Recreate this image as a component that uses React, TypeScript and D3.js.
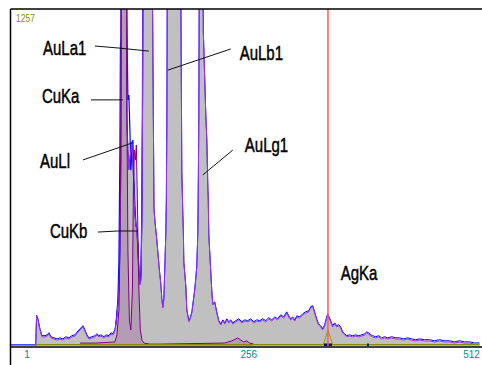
import React from 'react';
import * as d3 from 'd3';

const W = 482;
const H = 365;

// main (grey filled) spectrum: [channel, counts]
const mainSpectrum: [number, number][] = [
  [-18.5, 0], [11, 0], [12, 110], [13.6, 97], [15.9, 60], [18.2, 34], [21.7, 34], [24, 37], [26.3, 45],
  [28.6, 30], [32, 26], [35.5, 22], [38.9, 26], [42.3, 22], [45.8, 30], [49.2, 26], [52.7, 34], [56.1, 37],
  [59.6, 52], [63, 63], [65.3, 71], [67.6, 56], [69.9, 37], [72.2, 26], [75.6, 30], [79.1, 34], [81.4, 41],
  [83.7, 34], [86, 37], [89.4, 30], [91.7, 37], [95.2, 34], [97.5, 45], [99.8, 41], [102, 56], [103.2, 78],
  [104.4, 112], [105.5, 153], [106.7, 209], [107.8, 358], [109, 694], [110.1, 2500], [112.4, 3500],
  [114.7, 2500], [115.8, 843], [117, 731], [118.1, 656], [119.3, 694], [120.4, 731], [121.6, 757],
  [122.7, 694], [123.9, 582], [125, 489], [126.2, 451], [127.4, 425], [128.5, 377], [129.7, 283],
  [130.8, 228], [132, 246], [133.1, 470], [133.9, 918], [134.8, 2000], [140, 6000], [144.5, 1500],
  [145.5, 1200], [147, 507], [148.2, 459], [150.5, 384], [152.8, 295], [155.1, 220], [156, 172],
  [157.2, 142], [158.3, 172], [159.5, 295], [160.6, 421], [161.2, 545], [161.8, 843], [162.9, 2000],
  [170.4, 6000], [177.9, 1300], [179, 645], [180.2, 481], [180.7, 433], [181.3, 310], [183.6, 220],
  [184.7, 134], [187, 90], [188.2, 97], [190.5, 123], [193.9, 209], [196.2, 295], [197.4, 421],
  [198, 630], [198.5, 843], [199.1, 1400], [202, 3000], [203.7, 1171], [206.6, 854], [207.7, 768],
  [208.9, 593], [209.4, 545], [210, 414], [212.3, 272], [213.5, 198], [214.6, 153], [216.9, 160],
  [219.2, 123], [221.5, 90], [223.8, 78], [226.1, 93], [228.4, 82], [230.7, 97], [233, 86], [235.3, 93],
  [237.6, 82], [241.1, 90], [244.5, 97], [248, 86], [251.4, 93], [254.8, 90], [258.2, 97], [261.7, 86],
  [265.1, 93], [268.6, 90], [272, 97], [275.5, 90], [278.9, 101], [282.4, 93], [285.8, 104], [289.2, 97],
  [292.7, 112], [296.1, 104], [299.6, 123], [301.9, 108], [304.2, 97], [306.5, 104], [308.8, 93],
  [311.1, 108], [314.5, 104], [318, 116], [321.4, 123], [324.9, 127], [327.2, 142], [329.5, 146],
  [331.7, 123], [334, 97], [336.3, 78], [338.6, 71], [340.9, 60], [343.2, 75], [345.5, 104], [346.7, 116],
  [347.8, 108], [350.1, 90], [352.4, 71], [354.7, 82], [357, 71], [359.3, 75], [361.6, 67], [363.9, 48],
  [366.2, 41], [368.5, 34], [371.9, 37], [375.4, 34], [378.8, 37], [382.3, 34], [385.7, 37], [389.2, 41],
  [391.5, 48], [393.8, 45], [396, 37], [398.3, 34], [401.8, 30], [405.2, 34], [408.7, 26], [412.1, 30],
  [415.6, 26], [420.2, 30], [424.8, 26], [429.4, 26], [434, 22], [438.5, 26], [443.1, 22], [447.7, 19],
  [452.3, 22], [458, 19], [463.8, 19], [469.5, 15], [475.3, 19], [481, 15], [486.8, 15], [492.5, 11],
  [498.3, 15], [504, 11], [509.8, 11], [515.5, 7], [521.2, 7],
];

// blue spectrum detail around the Cu / AuL region
const blueCuRegion: [number, number][] = [
  [103.2, 82], [104.4, 127], [105.5, 172], [106.7, 321], [107.8, 731], [108.4, 1123], [109, 1141],
  [109.6, 1400], [112.4, 3000], [115.8, 1216], [116.4, 1067], [117, 918], [118.1, 936], [119.3, 806],
  [120.4, 656], [121.6, 731], [122.7, 768], [123.9, 619], [125, 526], [126.2, 451], [127.4, 440],
  [128.5, 358], [129.7, 265], [130.8, 246], [132, 276], [133.1, 545], [133.7, 918], [134.2, 1400],
];

// copper reference spectrum (dark purple)
const cuSpectrum: [number, number][] = [
  [61.9, 11], [80, 11], [102, 15], [104.4, 41], [106.7, 134], [107.8, 358], [109, 918], [110.1, 2500],
  [112.4, 4000], [114.7, 2500], [115.8, 918], [117, 358], [118.7, 97], [120.4, 60], [122.2, 209],
  [123.4, 619], [124.5, 731], [125.7, 694], [126.7, 750], [127.9, 545], [129.6, 209], [131.3, 60],
  [133.1, 22], [135.4, 11], [142.3, 7], [153.7, 7], [228.4, 11], [236.4, 19], [243.3, 30], [246.8, 22],
  [250.2, 15], [253.6, 19], [257.1, 11], [261.7, 7],
];

const fullScale = 1257;
const tickChannels = [1, 256, 512];
const agKaChannel = 347;
const roiMarks: [number, number][] = [[342.5, 351.5], [392, 394]];

// annotation: name, text anchor [channel, counts], leader polyline [[channel, counts], ...]
const peakNames = ['AuLa1', 'CuKa', 'AuLl', 'CuKb', 'AuLb1', 'AuLg1', 'AgKa'];
const labelAnchors: [number, number][] = [
  [19.4, 1085], [18.2, 906], [15.9, 664], [27.4, 403], [245.5, 1067], [251.4, 724], [361.6, 246],
];
const leaderLines: [number, number][][] = [
  [[79.1, 1119], [107.8, 1111], [141.1, 1100]],
  [[74.5, 918], [111.2, 918]],
  [[65.3, 694], [121.6, 757]],
  [[82.5, 425], [105.5, 429], [128.5, 429]],
  [[235.3, 1108], [162.9, 1029]],
  [[237.6, 731], [203.1, 638]],
  [],
];

export default function App() {
  const x = d3.scaleLinear().domain([1, 512]).range([27, 471.5]);
  const y = d3.scaleLinear().domain([0, fullScale]).range([346, 9]);
  const plotL = 10.5;
  const plotR = 482;
  const plotT = 9;
  const plotB = 346;

  const area = d3
    .area<[number, number]>()
    .x((d) => x(d[0]))
    .y0(y(0))
    .y1((d) => y(d[1]));
  const line = d3
    .line<[number, number]>()
    .x((d) => x(d[0]))
    .y((d) => y(d[1]));

  return (
    <svg
      width={W}
      height={H}
      style={{ position: 'absolute', left: 0, top: 0, background: '#fff' }}
      fontFamily="'Liberation Sans', Arial, sans-serif"
    >
      <defs>
        <clipPath id="plotClip">
          <rect x={plotL} y={plotT} width={plotR - plotL} height={plotB - plotT} />
        </clipPath>
      </defs>
      <rect x={0} y={0} width={W} height={H} fill="#fff" />
      <g clipPath="url(#plotClip)">
        <path d={area(mainSpectrum) || ''} fill="#c0c0c0" />
        <path d={area(cuSpectrum) || ''} fill="#800080" fillOpacity={0.18} />
        <path
          d={line(mainSpectrum) || ''}
          fill="none"
          stroke="#0000ff"
          strokeWidth={1}
          transform="translate(0,-1.2)"
        />
        <path d={line(blueCuRegion) || ''} fill="none" stroke="#0000ff" strokeWidth={1.2} />
        <path d={line(mainSpectrum) || ''} fill="none" stroke="#9933ee" strokeWidth={1} />
        <path d={line(cuSpectrum) || ''} fill="none" stroke="#800080" strokeWidth={1} />
        {/* olive baseline */}
        <line x1={x(11)} x2={x(521)} y1={plotB - 1.3} y2={plotB - 1.3} stroke="#8a8a00" strokeWidth={1.3} />
        {/* ROI marker */}
        <path
          d={`M${x(agKaChannel - 5.5)},${plotB - 1} L${x(agKaChannel)},${y(60)} L${x(agKaChannel + 5.5)},${plotB - 1}`}
          fill="none"
          stroke="#999900"
          strokeWidth={1}
        />
        {roiMarks.map((m, i) => (
          <rect key={i} x={x(m[0])} y={plotB - 2.5} width={x(m[1]) - x(m[0])} height={2.5} fill="#000080" />
        ))}
        {/* AgKa marker line */}
        <line x1={x(agKaChannel)} x2={x(agKaChannel)} y1={plotT} y2={plotB} stroke="#ff5a5a" strokeWidth={1.5} />
      </g>
      {/* frame */}
      <line x1={plotL} x2={plotR} y1={plotT} y2={plotT} stroke="#000" strokeWidth={1.5} />
      <line x1={plotL} x2={plotL} y1={plotT} y2={H} stroke="#000" strokeWidth={1.5} />
      <line x1={plotL} x2={plotR} y1={plotB + 1} y2={plotB + 1} stroke="#000" strokeWidth={1.6} />
      {/* full scale */}
      <text x={16} y={22} fontSize={8.5} fill="#8a8a00" transform="translate(16,22) scale(1,1.2) translate(-16,-22)">
        {fullScale}
      </text>
      {/* ticks */}
      {tickChannels.map((t) => (
        <text key={t} x={x(t)} y={358} fontSize={10} fill="#008b8b" textAnchor="middle">
          {t}
        </text>
      ))}
      {/* annotations */}
      {peakNames.map((name, i) => {
        const [cx, cy] = labelAnchors[i];
        const tx = x(cx);
        const ty = y(cy);
        return (
          <g key={name}>
            {leaderLines[i].length > 0 && (
              <path d={line(leaderLines[i]) || ''} fill="none" stroke="#111" strokeWidth={1} />
            )}
            <text
              x={0}
              y={0}
              fontSize={15}
              fill="#000"
              stroke="#000"
              strokeWidth={0.35}
              transform={`translate(${tx},${ty}) scale(1,1.4)`}
            >
              {name}
            </text>
          </g>
        );
      })}
    </svg>
  );
}
